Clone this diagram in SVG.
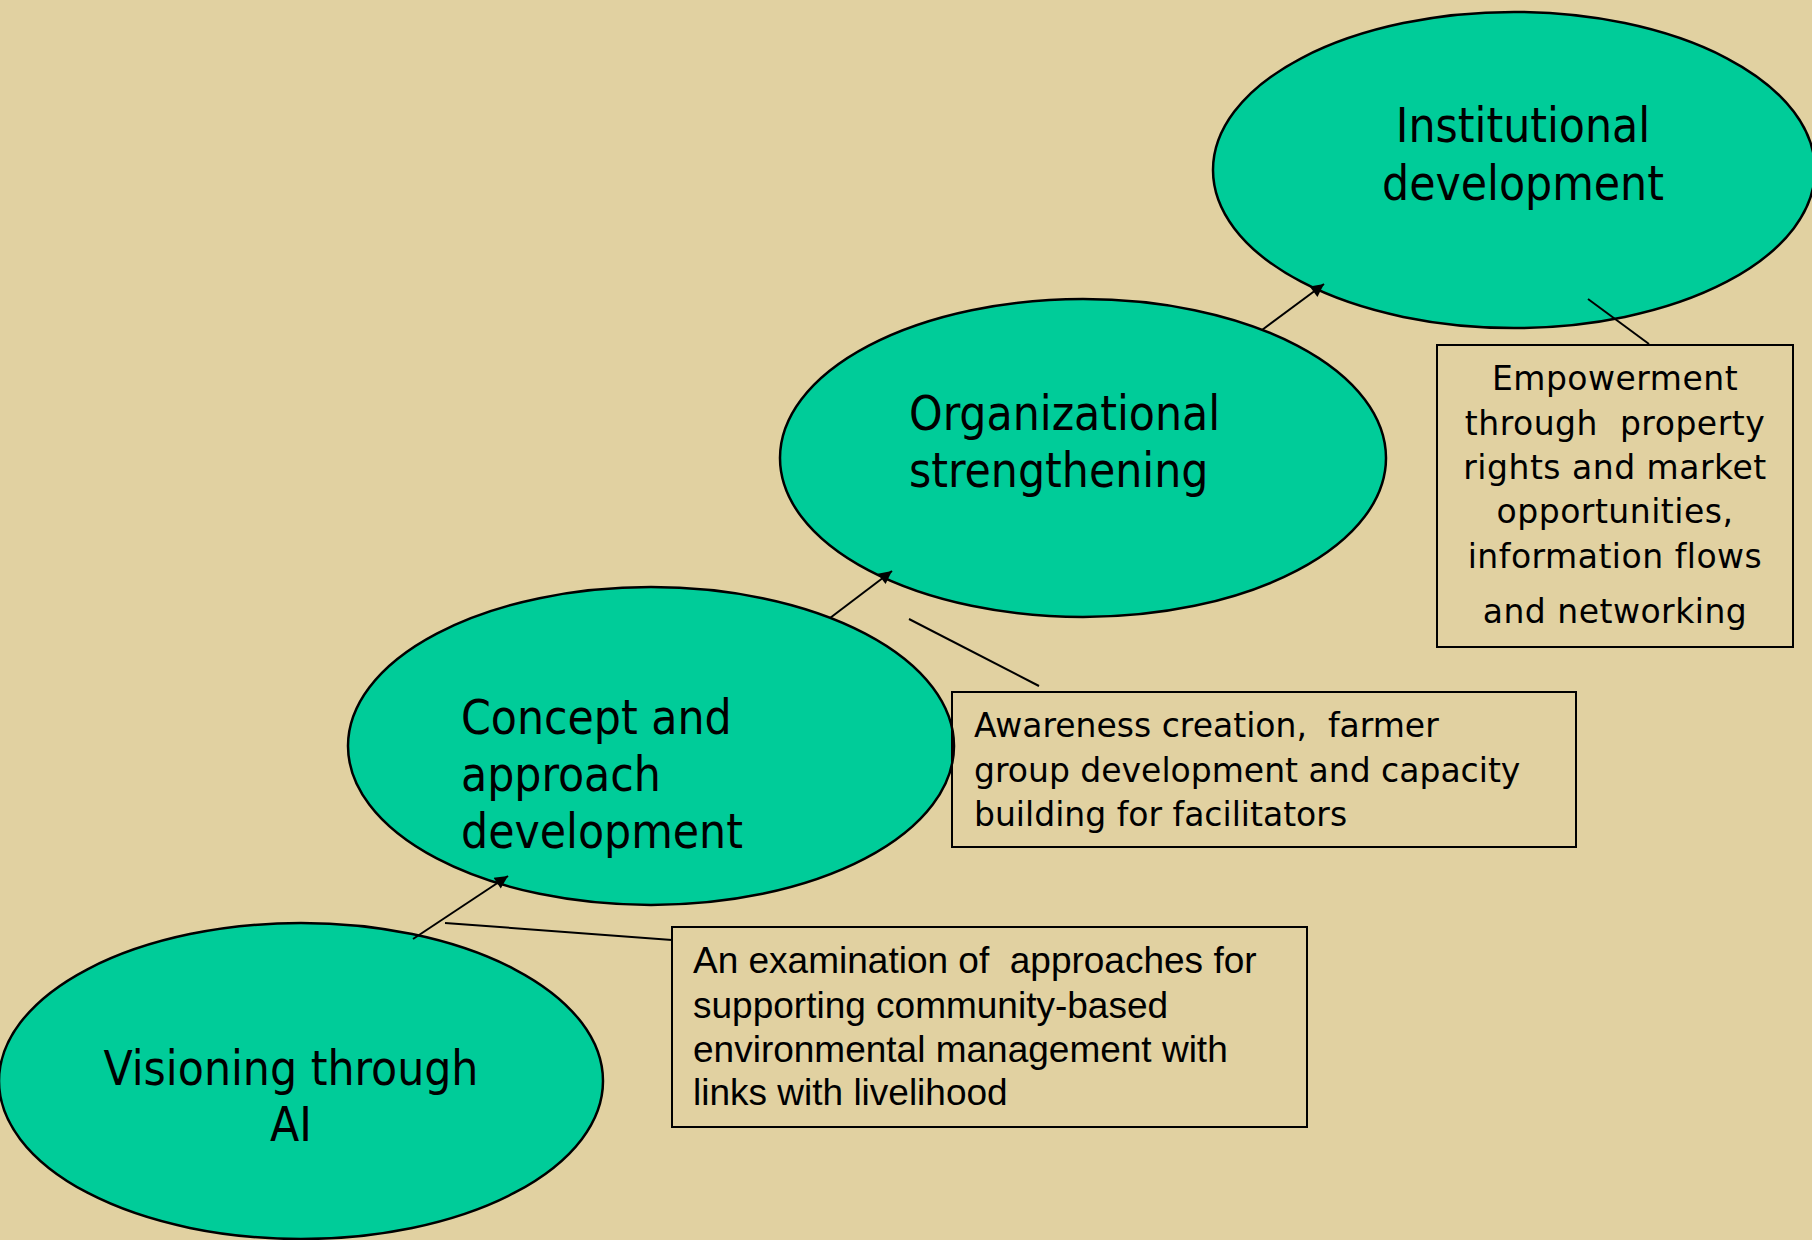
<svg xmlns="http://www.w3.org/2000/svg" width="1812" height="1240" viewBox="0 0 1812 1240">
<style>
.bg{fill:#E1D1A1}
.node{fill:#00CC99;stroke:#000;stroke-width:2.5}
.box{fill:none;stroke:#000;stroke-width:2}
.et{font-family:"DejaVu Sans Condensed","DejaVu Sans",sans-serif;font-stretch:condensed;font-size:47.5px;fill:#000}
.bt{font-family:"DejaVu Sans",sans-serif;font-size:33px;fill:#000;white-space:pre}
.bt2{letter-spacing:0.5px}
.at{font-family:"Liberation Sans",Arial,sans-serif;font-size:37px;fill:#000;white-space:pre}
.con{stroke:#000;stroke-width:2;fill:none}
</style>
<defs>
<marker id="arr" viewBox="0 0 10 10" refX="10" refY="5" markerWidth="16" markerHeight="13" markerUnits="userSpaceOnUse" orient="auto">
<path d="M0,0 L10,5 L0,10 z" fill="#000"/>
</marker>
</defs>
<rect class="bg" x="0" y="0" width="1812" height="1240"/>
<g id="node-visioning">
<ellipse class="node" cx="301" cy="1081" rx="302" ry="158"/>
<text class="et" text-anchor="middle"><tspan x="291" y="1085">Visioning through</tspan><tspan x="291" y="1141">AI</tspan></text>
</g>
<g id="node-concept">
<ellipse class="node" cx="651" cy="746" rx="303" ry="159"/>
<text class="et"><tspan x="461" y="734">Concept and</tspan><tspan x="461" y="791">approach</tspan><tspan x="461" y="848">development</tspan></text>
</g>
<g id="node-organizational">
<ellipse class="node" cx="1083" cy="458" rx="303" ry="159"/>
<text class="et"><tspan x="909" y="430">Organizational</tspan><tspan x="909" y="487">strengthening</tspan></text>
</g>
<g id="node-institutional">
<ellipse class="node" cx="1514" cy="170" rx="301" ry="158"/>
<text class="et" text-anchor="middle"><tspan x="1523" y="142">Institutional</tspan><tspan x="1523" y="200">development</tspan></text>
</g>
<g id="note-examination">
<rect class="box" x="672" y="927" width="635" height="200"/>
<text class="at"><tspan x="693" y="973">An examination of  approaches for</tspan><tspan x="693" y="1018">supporting community-based</tspan><tspan x="693" y="1062">environmental management with</tspan><tspan x="693" y="1105">links with livelihood</tspan></text>
</g>
<g id="note-awareness">
<rect class="box" x="952" y="692" width="624" height="155"/>
<text class="bt"><tspan x="974" y="737">Awareness creation,  farmer</tspan><tspan x="974" y="782">group development and capacity</tspan><tspan x="974" y="826">building for facilitators</tspan></text>
</g>
<g id="note-empowerment">
<rect class="box" x="1437" y="345" width="356" height="302"/>
<text class="bt bt2" text-anchor="middle"><tspan x="1615" y="390">Empowerment</tspan><tspan x="1615" y="435">through  property</tspan><tspan x="1615" y="479">rights and market</tspan><tspan x="1615" y="523">opportunities,</tspan><tspan x="1615" y="568">information flows</tspan><tspan x="1615" y="623">and networking</tspan></text>
</g>
<g id="connectors">
<line class="con" x1="413" y1="939" x2="508" y2="876" marker-end="url(#arr)"/>
<line class="con" x1="830" y1="618" x2="892" y2="571" marker-end="url(#arr)"/>
<line class="con" x1="1262" y1="330" x2="1324" y2="284" marker-end="url(#arr)"/>
<line class="con" x1="445" y1="923" x2="672" y2="940"/>
<line class="con" x1="909" y1="619" x2="1039" y2="686"/>
<line class="con" x1="1588" y1="299" x2="1649" y2="344"/>
</g>
</svg>
